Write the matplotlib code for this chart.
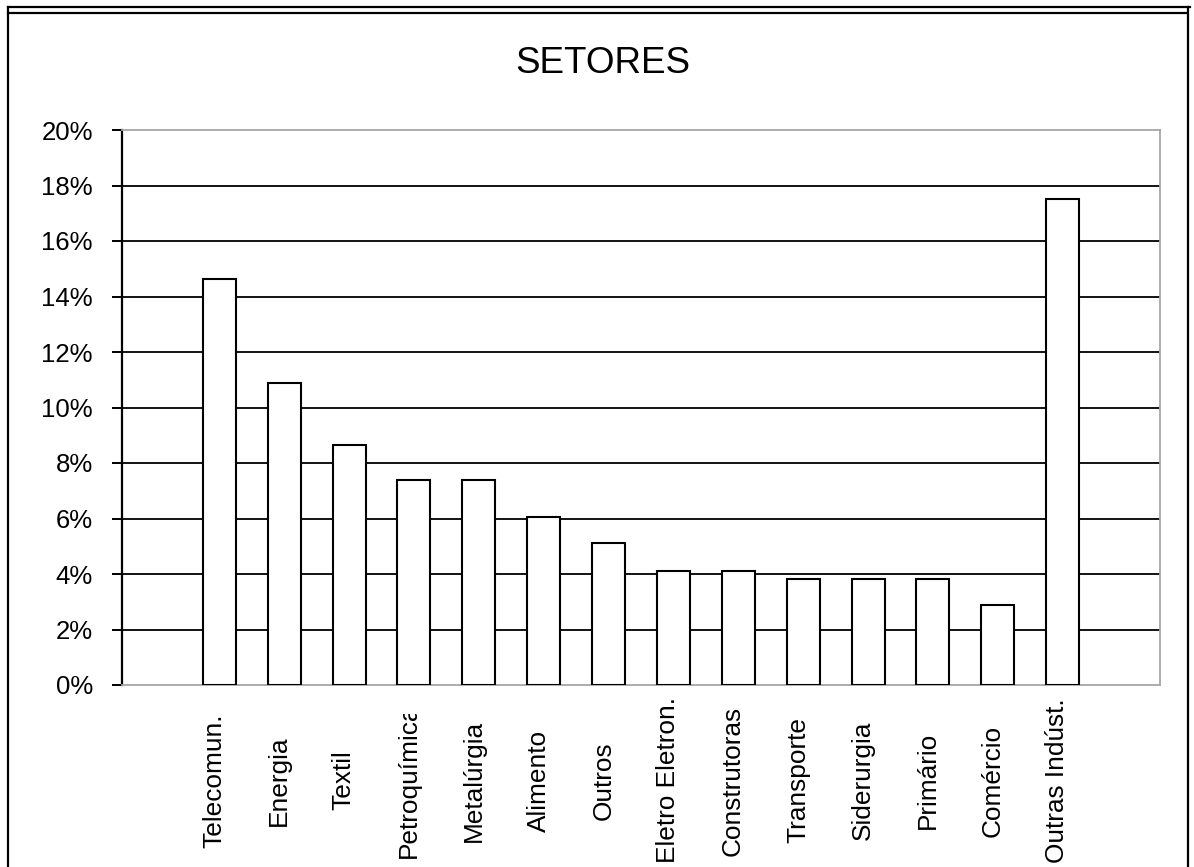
import matplotlib
matplotlib.use("Agg")
import matplotlib.pyplot as plt
from matplotlib.lines import Line2D
from matplotlib.transforms import Bbox, blended_transform_factory

plt.rcParams["font.family"] = ["Liberation Sans", "DejaVu Sans"]

# Share of companies per sector (%)
sectors = ["Telecomun.", "Energia", "Textil", "Petroquímica", "Metalúrgia",
           "Alimento", "Outros", "Eletro Eletron.", "Construtoras", "Transporte",
           "Siderurgia", "Primário", "Comércio", "Outras Indúst."]
shares = [14.62, 10.87, 8.64, 7.39, 7.39, 6.05, 5.11, 4.11, 4.11, 3.81,
          3.81, 3.81, 2.88, 17.50]
y_ticks = [0, 2, 4, 6, 8, 10, 12, 14, 16, 18, 20]
title = "SETORES"

W, H = 1194, 867
fig = plt.figure(figsize=(W / 100, H / 100), dpi=100)
fig.patch.set_facecolor("white")

ax = fig.add_axes([122 / W, (H - 685) / H, (1160 - 122) / W, (685 - 130) / H])
x = list(range(len(sectors)))
ax.bar(x, shares, width=0.51, color="white", edgecolor="black",
       linewidth=1.5, zorder=3)

ax.set_xlim(-1.5, len(sectors) + 0.5)
ax.set_ylim(0, 20)
ax.set_yticks(y_ticks)
ax.set_yticklabels([f"{t}%" for t in y_ticks], fontsize=18.5)
ax.tick_params(axis="y", direction="out", length=7, width=1.4,
               color="black", pad=14)
ax.set_xticks([])

ax.set_axisbelow(True)
ax.yaxis.grid(True, color="black", linewidth=1.3)
for line, val in zip(ax.get_ygridlines(), y_ticks):
    if val in (0, 20):
        line.set_visible(False)

for side in ("top", "right", "bottom"):
    ax.spines[side].set_color("#a6a6a6")
    ax.spines[side].set_linewidth(1.3)
ax.spines["left"].set_color("black")
ax.spines["left"].set_linewidth(1.6)

# Rotated category labels under the bars
trans = blended_transform_factory(ax.transData, ax.transAxes)
for xi, name in zip(x, sectors):
    t = ax.text(xi - 0.08, -0.172, name, rotation=90, ha="center",
                va="center", fontsize=18.9, transform=trans, clip_on=False)
    if name == "Petroquímica":
        # this label is cut short by the plot-area box
        t.set_clip_box(Bbox([[0, 0], [W, H - 714]]))
        t.set_clip_on(True)

fig.text(603 / W, (H - 73) / H, title, ha="center", va="baseline",
         fontsize=26.5)

# Chart-area border
lw = 1.6
def fline(xs, ys):
    fig.add_artist(Line2D([v / W for v in xs], [(H - v) / H for v in ys],
                          color="black", linewidth=lw,
                          transform=fig.transFigure))

fline([8, 1190], [7, 7])
fline([8, 1187], [13, 13])
fline([8, 8], [7, H])
fline([1188, 1188], [7, H])

fig.savefig("out.png", dpi=100, facecolor="white")
